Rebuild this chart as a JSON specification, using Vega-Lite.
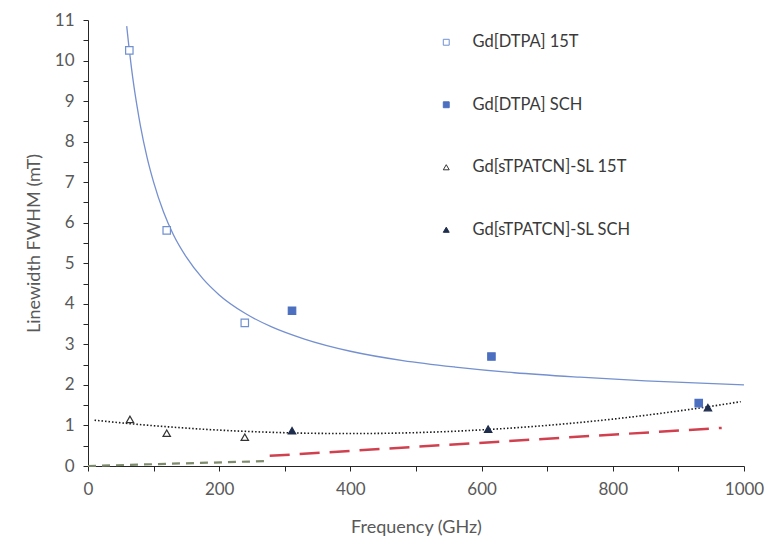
{
  "$schema": "https://vega.github.io/schema/vega-lite/v6.json",
  "width": 656,
  "height": 446,
  "autosize": "none",
  "padding": {"left": 88, "top": 20, "right": 27, "bottom": 77},
  "background": "white",
  "config": {
    "view": {"stroke": null},
    "font": "Lato",
    "axis": {
      "grid": false,
      "domainColor": "#262626",
      "tickColor": "#262626",
      "tickSize": 5,
      "labelColor": "#595959",
      "labelFontSize": 17,
      "titleColor": "#595959",
      "titleFontSize": 18,
      "titleFontWeight": "normal",
      "labelOverlap": false,
      "labelFlush": false
    },
    "legend": {
      "orient": "none",
      "legendX": 350,
      "legendY": 14,
      "padding": 0,
      "rowPadding": 45.5,
      "labelFontSize": 16.5,
      "labelColor": "#3a3a3a",
      "symbolSize": 35,
      "labelOffset": 18,
      "symbolStrokeWidth": 1
    }
  },
  "datasets": {
    "points": [
      {"series": "Gd[DTPA] 15T", "f": 63, "w": 10.25},
      {"series": "Gd[DTPA] 15T", "f": 120, "w": 5.81},
      {"series": "Gd[DTPA] 15T", "f": 239, "w": 3.53},
      {"series": "Gd[DTPA] SCH", "f": 311, "w": 3.83},
      {"series": "Gd[DTPA] SCH", "f": 615, "w": 2.70},
      {"series": "Gd[DTPA] SCH", "f": 931, "w": 1.55},
      {"series": "Gd[sTPATCN]-SL 15T", "f": 64, "w": 1.15},
      {"series": "Gd[sTPATCN]-SL 15T", "f": 120, "w": 0.81},
      {"series": "Gd[sTPATCN]-SL 15T", "f": 239, "w": 0.71},
      {"series": "Gd[sTPATCN]-SL SCH", "f": 311, "w": 0.87},
      {"series": "Gd[sTPATCN]-SL SCH", "f": 610, "w": 0.91},
      {"series": "Gd[sTPATCN]-SL SCH", "f": 945, "w": 1.44}
    ],
    "blueFit": [
      {"f": 59, "w": 10.85}, {"f": 62, "w": 10.40}, {"f": 66, "w": 9.85},
      {"f": 70, "w": 9.37}, {"f": 75, "w": 8.85}, {"f": 80, "w": 8.38},
      {"f": 90, "w": 7.61}, {"f": 100, "w": 7.00}, {"f": 115, "w": 6.27},
      {"f": 130, "w": 5.71}, {"f": 150, "w": 5.15}, {"f": 175, "w": 4.62},
      {"f": 200, "w": 4.22}, {"f": 240, "w": 3.76}, {"f": 280, "w": 3.43},
      {"f": 330, "w": 3.13}, {"f": 400, "w": 2.83}, {"f": 480, "w": 2.60},
      {"f": 560, "w": 2.44}, {"f": 650, "w": 2.30}, {"f": 750, "w": 2.19},
      {"f": 850, "w": 2.10}, {"f": 1000, "w": 2.00}
    ],
    "dotFit": [
      {"f": 10, "w": 1.13}, {"f": 50, "w": 1.065}, {"f": 100, "w": 0.994},
      {"f": 150, "w": 0.934}, {"f": 200, "w": 0.885}, {"f": 250, "w": 0.848},
      {"f": 300, "w": 0.821}, {"f": 350, "w": 0.805}, {"f": 400, "w": 0.80},
      {"f": 450, "w": 0.806}, {"f": 500, "w": 0.823}, {"f": 550, "w": 0.851},
      {"f": 600, "w": 0.891}, {"f": 650, "w": 0.941}, {"f": 700, "w": 1.002},
      {"f": 750, "w": 1.074}, {"f": 800, "w": 1.157}, {"f": 850, "w": 1.251},
      {"f": 900, "w": 1.357}, {"f": 950, "w": 1.473}, {"f": 995, "w": 1.587}
    ],
    "greenDash": [{"f": 0, "w": 0.0}, {"f": 270, "w": 0.12}],
    "redDash": [{"f": 277, "w": 0.25}, {"f": 966, "w": 0.94}]
  },
  "encoding": {
    "x": {
      "field": "f",
      "type": "quantitative",
      "scale": {"domain": [0, 1000], "nice": false, "zero": false},
      "axis": {
        "title": "Frequency (GHz)",
        "values": [0, 100, 200, 300, 400, 500, 600, 700, 800, 900, 1000],
        "labelExpr": "datum.value % 200 == 0 ? datum.label : ''",
        "format": "d",
        "labelPadding": 10,
        "titlePadding": 21
      }
    },
    "y": {
      "field": "w",
      "type": "quantitative",
      "scale": {"domain": [0, 11], "nice": false, "zero": false},
      "axis": {
        "title": "Linewidth FWHM (mT)",
        "values": [0, 0.5, 1, 1.5, 2, 2.5, 3, 3.5, 4, 4.5, 5, 5.5, 6, 6.5, 7, 7.5, 8, 8.5, 9, 9.5, 10, 10.5, 11],
        "labelExpr": "datum.value % 1 == 0 ? format(datum.value, 'd') : ''",
        "labelPadding": 9,
        "titlePadding": 11
      }
    }
  },
  "layer": [
    {
      "data": {"name": "greenDash"},
      "mark": {"type": "line", "color": "#7d8a6c", "strokeWidth": 2.2, "strokeDash": [8, 6]}
    },
    {
      "data": {"name": "redDash"},
      "mark": {"type": "line", "color": "#d0404e", "strokeWidth": 2.5, "strokeDash": [20, 10]}
    },
    {
      "data": {"name": "blueFit"},
      "mark": {"type": "line", "color": "#7590d0", "strokeWidth": 1.3, "interpolate": "monotone"}
    },
    {
      "data": {"name": "dotFit"},
      "mark": {"type": "line", "color": "#1a1a1a", "strokeWidth": 1.6, "strokeDash": [1.5, 2], "interpolate": "monotone"}
    },
    {
      "data": {"name": "points"},
      "mark": {"type": "point", "filled": true, "strokeWidth": 1.2, "opacity": 1},
      "encoding": {
        "shape": {
          "field": "series", "type": "nominal", "title": null,
          "scale": {
            "domain": ["Gd[DTPA] 15T", "Gd[DTPA] SCH", "Gd[sTPATCN]-SL 15T", "Gd[sTPATCN]-SL SCH"],
            "range": ["square", "square", "triangle-up", "triangle-up"]
          }
        },
        "fill": {
          "field": "series", "type": "nominal", "title": null,
          "scale": {
            "domain": ["Gd[DTPA] 15T", "Gd[DTPA] SCH", "Gd[sTPATCN]-SL 15T", "Gd[sTPATCN]-SL SCH"],
            "range": ["#ffffff", "#4d6fc0", "#ffffff", "#1f2d4d"]
          }
        },
        "stroke": {
          "field": "series", "type": "nominal", "title": null,
          "scale": {
            "domain": ["Gd[DTPA] 15T", "Gd[DTPA] SCH", "Gd[sTPATCN]-SL 15T", "Gd[sTPATCN]-SL SCH"],
            "range": ["#7090d0", "#4d6fc0", "#333333", "#1f2d4d"]
          }
        },
        "size": {"value": 55}
      }
    }
  ]
}
